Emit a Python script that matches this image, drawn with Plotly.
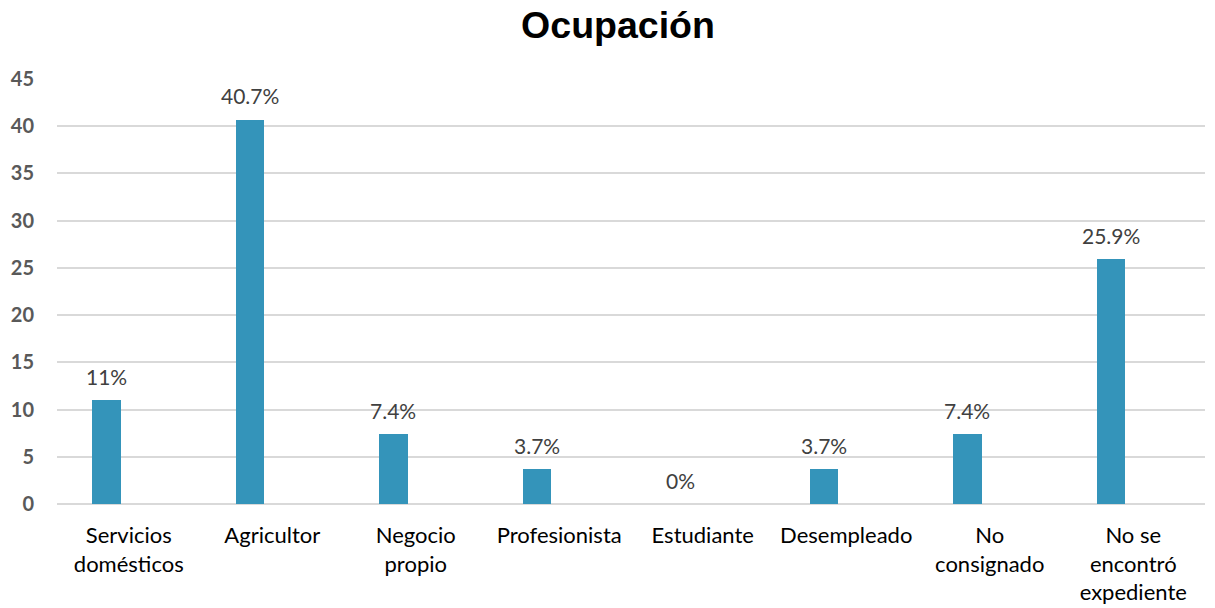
import plotly.graph_objects as go

categories = ["Servicios<br>domésticos", "Agricultor", "Negocio<br>propio", "Profesionista",
              "Estudiante", "Desempleado", "No<br>consignado", "No se<br>encontró<br>expediente"]
values = [11, 40.7, 7.4, 3.7, 0, 3.7, 7.4, 25.9]
labels = ["11%", "40.7%", "7.4%", "3.7%", "0%", "3.7%", "7.4%", "25.9%"]
y_ticks = [0, 5, 10, 15, 20, 25, 30, 35, 40, 45]

FONT = "Lato, Open Sans, sans-serif"
BAR_W = 0.2
BAR_OFF = -0.256

xs = list(range(len(categories)))

fig = go.Figure()
fig.add_trace(go.Bar(
    x=xs, y=values,
    marker=dict(color="#3494BA", line=dict(width=0)),
    width=BAR_W, offset=BAR_OFF, hoverinfo="y",
))
for xi, v, t in zip(xs, values, labels):
    fig.add_annotation(
        x=xi + BAR_OFF + BAR_W / 2, y=v, xref="x", yref="y", text=t, showarrow=False,
        yanchor="middle", yshift=24,
        font=dict(family=FONT, size=21, color="#404040"),
    )

W, H = 1215, 608
fig.update_layout(
    width=W, height=H,
    paper_bgcolor="white", plot_bgcolor="white",
    margin=dict(l=57, r=10, t=79, b=104),
    title=dict(text="<b>Ocupación</b>", x=618 / W, xanchor="center", y=1 - 25 / H, yanchor="middle",
               font=dict(family="Liberation Sans, Arial", size=37.5, color="#000000")),
    showlegend=False,
    bargap=0,
)
fig.update_xaxes(
    range=[-0.5, 7.5], tickmode="array", tickvals=xs, ticktext=categories,
    tickfont=dict(family=FONT, size=22, color="#000000"),
    showgrid=False, ticks="", showline=False, zeroline=False, ticklabelstandoff=16,
    automargin=False,
)
fig.update_yaxes(
    range=[0, 45], tickmode="array", tickvals=y_ticks,
    tickfont=dict(family=FONT, size=20, color="#595959", weight="bold"),
    showgrid=True, gridcolor="#D9D9D9", gridwidth=1.5, zeroline=True, zerolinecolor="#D9D9D9",
    zerolinewidth=1.5, ticks="", showline=False, ticklabelstandoff=22,
    automargin=False,
)
fig.write_html("out.html", config={"displayModeBar": False},
               post_script="document.body.style.margin='0';")
